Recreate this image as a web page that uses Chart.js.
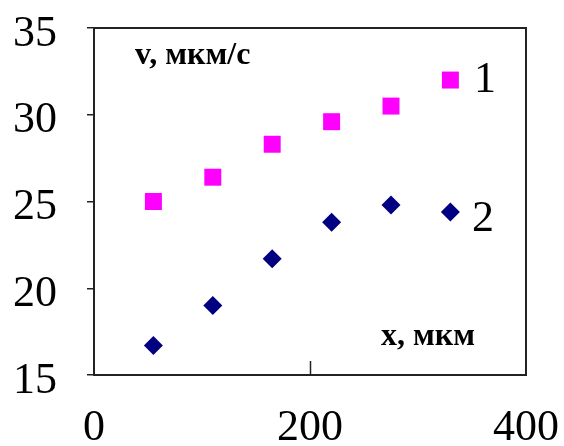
<!DOCTYPE html>
<html>
<head>
<meta charset="utf-8">
<script src="https://cdn.jsdelivr.net/npm/chart.js@4"></script>
<style>
  body { margin: 0; background: #fff; }
  #wrap { width: 564px; height: 446px; }
</style>
</head>
<body>
<div id="wrap"><canvas id="mycanvas"></canvas></div>
<script>
var xValues = [55, 110, 165, 220, 275, 330];
var series1 = [25.0, 26.4, 28.3, 29.6, 30.5, 32.0];
var series2 = [16.7, 19.0, 21.7, 23.8, 24.8, 24.4];
var xTicks = [0, 200, 400];
var yTicks = [15, 20, 25, 30, 35];

function toPoints(ys) {
  var pts = [];
  for (var i in xValues) {
    pts.push({x: xValues[i], y: ys[i]});
  }
  return pts;
}

var serif = "'Liberation Serif', 'Times New Roman', serif";

// frame, inner tick on x axis and the text labels
var extras = {
  id: 'extras',
  afterDraw: function(chart) {
    var ctx = chart.ctx;
    var a = chart.chartArea;
    var xs = chart.scales.x;
    ctx.save();
    ctx.strokeStyle = '#222';
    ctx.lineWidth = 2;
    ctx.strokeRect(a.left, a.top, a.right - a.left, a.bottom - a.top);
    ctx.lineWidth = 1.5;
    ctx.beginPath();
    var px = Math.round(xs.getPixelForValue(200)) + 0.5;
    ctx.moveTo(px, a.bottom);
    ctx.lineTo(px, a.bottom - 14);
    ctx.stroke();

    ctx.fillStyle = '#000';
    ctx.textBaseline = 'middle';
    ctx.textAlign = 'left';
    ctx.font = '44px ' + serif;
    ctx.fillText('1', 474, 80);
    ctx.fillText('2', 472, 219);
    ctx.font = 'bold 32px ' + serif;
    ctx.fillText('v, мкм/с', 135, 56);
    ctx.fillText('x, мкм', 381, 337);
    ctx.restore();
  }
};

var chartdata = {
  datasets: [
    {
      label: '1',
      data: toPoints(series1),
      pointStyle: 'rect',
      pointRadius: 12,
      pointHoverRadius: 12,
      backgroundColor: '#FF00FF',
      borderColor: '#FF00FF',
      borderWidth: 0
    },
    {
      label: '2',
      data: toPoints(series2),
      pointStyle: 'rectRot',
      pointRadius: 9.5,
      pointHoverRadius: 9.5,
      backgroundColor: '#000080',
      borderColor: '#000080',
      borderWidth: 0
    }
  ]
};

var ctx = document.getElementById('mycanvas');

var scatter = new Chart(ctx, {
  type: 'scatter',
  data: chartdata,
  options: {
    responsive: true,
    maintainAspectRatio: false,
    animation: false,
    events: [],
    layout: {
      autoPadding: false,
      padding: { top: 28, right: 38, left: 0, bottom: 0 }
    },
    plugins: {
      legend: { display: false },
      tooltip: { enabled: false }
    },
    scales: {
      x: {
        type: 'linear',
        min: 0,
        max: 400,
        afterFit: function(scale) {
          scale.height = 71;
          scale.paddingLeft = 0;
          scale.paddingRight = 0;
        },
        afterBuildTicks: function(scale) {
          scale.ticks = xTicks.map(function(v) { return {value: v}; });
        },
        grid: { display: false },
        border: { display: false },
        ticks: {
          color: '#000',
          padding: 19,
          maxRotation: 0,
          font: { family: serif, size: 44 }
        }
      },
      y: {
        type: 'linear',
        min: 15,
        max: 35,
        afterFit: function(scale) {
          scale.width = 94;
          scale.paddingTop = 0;
          scale.paddingBottom = 0;
        },
        afterBuildTicks: function(scale) {
          scale.ticks = yTicks.map(function(v) { return {value: v}; });
        },
        grid: {
          drawOnChartArea: false,
          drawTicks: true,
          tickLength: 7,
          color: '#222',
          lineWidth: 1.5
        },
        border: { display: false },
        ticks: {
          color: '#000',
          padding: 30,
          labelOffset: 6,
          font: { family: serif, size: 44 }
        }
      }
    }
  },
  plugins: [extras]
});
</script>
</body>
</html>
